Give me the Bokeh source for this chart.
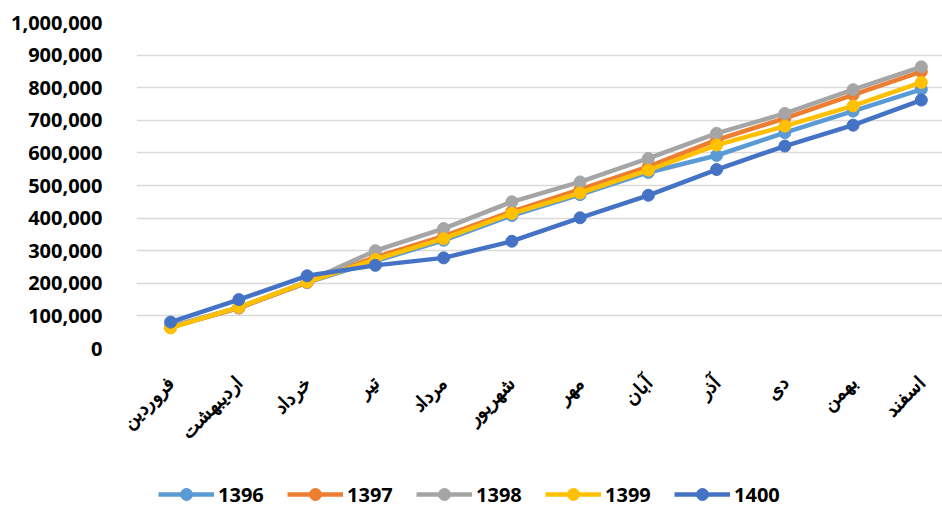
import math
from bokeh.plotting import figure
from bokeh.layouts import column
from bokeh.models import Range1d, FixedTicker, NumeralTickFormatter, Legend, LegendItem
from bokeh.embed import file_html
from bokeh.resources import INLINE

months = ["فروردین", "اردیبهشت", "خرداد", "تیر", "مرداد", "شهریور",
          "مهر", "آبان", "آذر", "دی", "بهمن", "اسفند"]

series_names = ["1396", "1397", "1398", "1399", "1400"]
v1396 = [65000, 125000, 202000, 268000, 332000, 408000, 472000, 540000, 592000, 662000, 728000, 795000]
v1397 = [66000, 124000, 203000, 280000, 345000, 420000, 488000, 558000, 640000, 706000, 778000, 849000]
v1398 = [68000, 126000, 205000, 300000, 368000, 450000, 511000, 583000, 660000, 721000, 794000, 864000]
v1399 = [63000, 127000, 204000, 273000, 337000, 414000, 477000, 547000, 624000, 682000, 744000, 816000]
v1400 = [81000, 150000, 223000, 255000, 278000, 329000, 401000, 470000, 549000, 621000, 685000, 762000]
y_ticks = list(range(0, 1000001, 100000))

colors = ["#5B9BD5", "#ED7D31", "#A5A5A5", "#FFC000", "#4472C4"]
values = [v1396, v1397, v1398, v1399, v1400]

FONT = "Noto Sans"

p = figure(width=942, height=460, output_backend="svg", toolbar_location=None,
           x_range=Range1d(-0.5, 11.31), y_range=Range1d(0, 1000000),
           min_border_left=136, min_border_right=0, min_border_top=22,
           min_border_bottom=112)
p.outline_line_color = None
p.background_fill_color = "white"
p.border_fill_color = "white"

x = list(range(len(months)))
for name, vals, col in zip(series_names, values, colors):
    p.line(x, vals, line_color=col, line_width=4.5)
    p.scatter(x, vals, size=12, fill_color=col, line_color=col, marker="circle")

# axes
p.yaxis.ticker = FixedTicker(ticks=y_ticks)
p.yaxis.formatter = NumeralTickFormatter(format="0,0")
p.yaxis.axis_line_color = None
p.yaxis.major_tick_line_color = None
p.yaxis.minor_tick_line_color = None
p.yaxis.major_label_text_font = FONT
p.yaxis.major_label_text_font_style = "bold"
p.yaxis.major_label_text_font_size = "20px"
p.yaxis.major_label_text_color = "black"
p.yaxis.major_label_standoff = 28

p.xaxis.ticker = FixedTicker(ticks=x)
p.xaxis.major_label_overrides = {i: m for i, m in enumerate(months)}
p.xaxis.axis_line_color = None
p.xaxis.major_tick_line_color = None
p.xaxis.minor_tick_line_color = None
p.xaxis.major_label_orientation = math.pi / 4
p.xaxis.major_label_text_font = FONT
p.xaxis.major_label_text_font_style = "bold"
p.xaxis.major_label_text_font_size = "19px"
p.xaxis.major_label_text_color = "black"
p.xaxis.major_label_standoff = 25

p.xgrid.grid_line_color = None
p.ygrid.grid_line_color = "#D9D9D9"
p.ygrid.grid_line_width = 1.5

# legend strip (separate figure so the legend is not clipped by the plot frame);
# the series are drawn there outside its visible range, only to feed the legend glyphs
lg = figure(width=942, height=48, output_backend="svg", toolbar_location=None,
            x_range=Range1d(0, 1), y_range=Range1d(-2, -1),
            x_axis_location=None, y_axis_location=None,
            min_border_left=0, min_border_right=0, min_border_top=0, min_border_bottom=0)
lg.outline_line_color = None
lg.grid.visible = False
lg.border_fill_color = "white"
lg.background_fill_color = "white"

items = []
for name, vals, col in zip(series_names, values, colors):
    ln = lg.line(x, vals, line_color=col, line_width=4.5)
    sc = lg.scatter(x, vals, size=12, fill_color=col, line_color=col, marker="circle")
    items.append(LegendItem(label=name, renderers=[ln, sc]))

legend = Legend(items=items, orientation="horizontal", location=(22, -1),
                glyph_width=56, glyph_height=30, label_standoff=4, spacing=22,
                label_width=47, padding=0, margin=0,
                border_line_color=None, background_fill_alpha=0,
                label_text_font=FONT, label_text_font_style="bold",
                label_text_font_size="20px", label_text_color="black")
lg.add_layout(legend, "center")

layout = column(p, lg, spacing=0)
open("out.html", "w").write(file_html(layout, INLINE))
